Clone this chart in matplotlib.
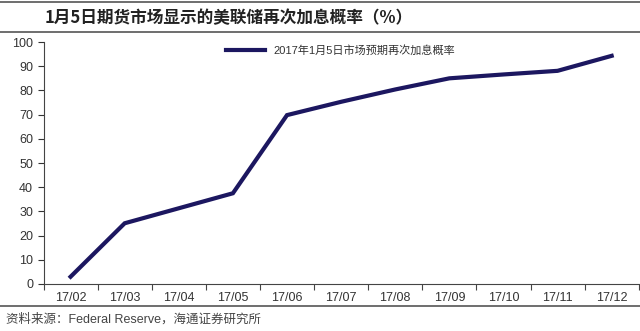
import matplotlib
matplotlib.use("Agg")
import matplotlib.pyplot as plt
from matplotlib.lines import Line2D

plt.rcParams['font.family'] = ['Liberation Sans', 'Noto Sans CJK SC', 'DejaVu Sans']

months = ['17/02', '17/03', '17/04', '17/05', '17/06', '17/07',
          '17/08', '17/09', '17/10', '17/11', '17/12']
prob = [3.0, 25.1, 31.3, 37.5, 69.8, 75.3, 80.4, 85.0, 86.6, 88.1, 94.3]
series_name = '2017年1月5日市场预期再次加息概率'
title = '1月5日期货市场显示的美联储再次加息概率（%）'
source = '资料来源：Federal Reserve，海通证券研究所'

fig = plt.figure(figsize=(6.4, 3.31), dpi=100)
ax = fig.add_axes([0.068, 0.142, 0.93, 0.731])

x = list(range(len(months)))
ax.plot(x, prob, color='#1c1760', lw=3, solid_joinstyle='miter',
        label=series_name)

ax.set_xlim(-0.5, len(months) - 0.5)
ax.set_ylim(0, 100)
ax.set_yticks(range(0, 101, 10))
ax.set_xticks([i - 0.5 for i in range(len(months) + 1)], minor=False)
ax.set_xticklabels([])
ax.set_xticks(x, minor=True)
ax.set_xticklabels(months, minor=True)
ax.tick_params(axis='x', which='minor', length=0, pad=6, labelsize=9, colors='#333333')
ax.tick_params(axis='x', which='major', length=4, direction='out', color='#444444')
ax.tick_params(axis='y', length=4, direction='out', labelsize=9, colors='#333333')
for s in ['top', 'right']:
    ax.spines[s].set_visible(False)
for s in ['left', 'bottom']:
    ax.spines[s].set_color('#444444')
    ax.spines[s].set_linewidth(0.8)

ax.legend(loc='upper left', bbox_to_anchor=(0.29, 1.03), frameon=False,
          handlelength=3.5, fontsize=8, labelcolor='#333333')

fig.text(0.07, 0.945, title, fontsize=12, fontweight='bold', va='center', color='#222222',
         family=['Noto Sans CJK SC', 'DejaVu Sans'])
fig.add_artist(Line2D([0, 1], [0.995, 0.995], color='#555555', lw=1.2))
fig.add_artist(Line2D([0, 1], [0.902, 0.902], color='#555555', lw=1.2))
fig.add_artist(Line2D([0, 1], [0.075, 0.075], color='#555555', lw=1.2))
fig.text(0.01, 0.035, source, fontsize=9, va='center', color='#444444')

fig.savefig('out.png', dpi=100)
